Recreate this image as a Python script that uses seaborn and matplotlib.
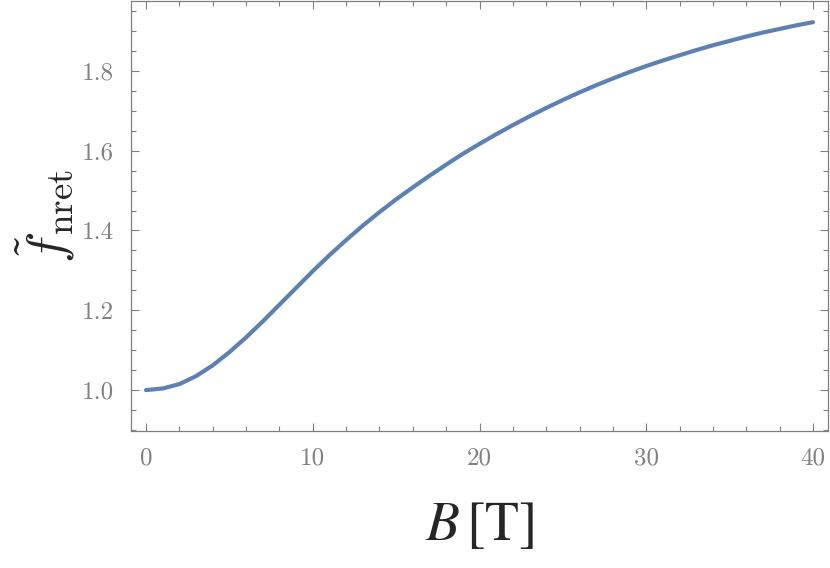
#!/usr/bin/env python3
"""Normalised non-retarded factor vs magnetic field."""

import matplotlib
matplotlib.use('Agg')
import matplotlib.pyplot as plt
from matplotlib.ticker import MultipleLocator
import seaborn as sns
import pandas as pd

# values, one per tesla
B_FIELD = list(range(0, 41))
F_NRET = [1.000, 1.004, 1.015, 1.035, 1.062, 1.095, 1.132, 1.172, 1.214, 1.256,
          1.298, 1.338, 1.376, 1.412, 1.446, 1.478, 1.508, 1.537, 1.565, 1.592,
          1.617, 1.641, 1.664, 1.686, 1.707, 1.727, 1.746, 1.764, 1.781, 1.797,
          1.812, 1.826, 1.839, 1.852, 1.864, 1.875, 1.886, 1.896, 1.905, 1.914,
          1.922]

X_TICKS = [0, 10, 20, 30, 40]
Y_TICKS = [1.0, 1.2, 1.4, 1.6, 1.8]

LINE_COLOR = '#5E81B5'
GRAY = '#808080'


def main():
    sns.set_style('ticks')
    plt.rcParams['font.family'] = ['cmr10', 'DejaVu Serif']
    plt.rcParams['mathtext.fontset'] = 'cm'
    plt.rcParams['axes.formatter.use_mathtext'] = True

    df = pd.DataFrame({'B': B_FIELD, 'f': F_NRET})

    fig = plt.figure(figsize=(8.3, 5.68), dpi=100)
    ax = fig.add_axes([131 / 830, 1 - 431 / 568, 697 / 830, 430 / 568])

    sns.lineplot(data=df, x='B', y='f', color=LINE_COLOR, linewidth=3.0, ax=ax)

    ax.set_xlim(-0.9, 40.9)
    ax.set_ylim(0.8975, 1.975)
    ax.set_xticks(X_TICKS)
    ax.set_yticks(Y_TICKS)
    ax.set_xticklabels([str(t) for t in X_TICKS])
    ax.set_yticklabels([f'{t:.1f}' for t in Y_TICKS])
    ax.xaxis.set_minor_locator(MultipleLocator(2))
    ax.yaxis.set_minor_locator(MultipleLocator(0.05))

    ax.tick_params(which='both', direction='in', top=True, right=True,
                   color=GRAY, width=0.8, labelcolor=GRAY, labelsize=18)
    ax.tick_params(which='major', length=6, pad=12)
    ax.tick_params(which='minor', length=3.5)
    for sp in ax.spines.values():
        sp.set_visible(True)
        sp.set_color(GRAY)
        sp.set_linewidth(0.9)

    ax.set_xlabel(r'$B\,[\mathrm{T}]$', fontsize=40, math_fontfamily='stix', labelpad=22)
    ax.set_ylabel(r'$\tilde{f}_{\mathrm{nret}}$', fontsize=38, labelpad=4)

    fig.savefig('out.png', dpi=100)
    plt.close(fig)


if __name__ == '__main__':
    main()
